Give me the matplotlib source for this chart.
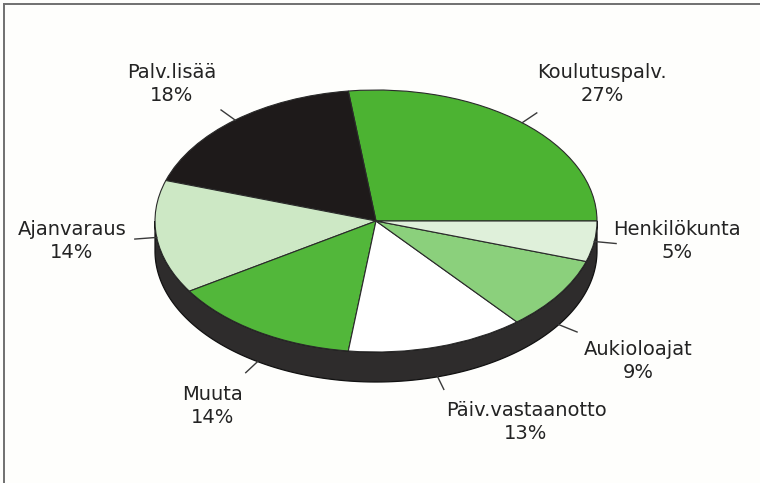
import numpy as np
import matplotlib
matplotlib.use("Agg")
import matplotlib.pyplot as plt
from matplotlib.patches import Polygon

labels = ["Koulutuspalv.", "Palv.lisää", "Ajanvaraus", "Muuta",
          "Päiv.vastaanotto", "Aukioloajat", "Henkilökunta"]
shares = [27, 18, 14, 14, 13, 9, 5]
colors = ["#4cb332", "#1e1a1a", "#cde8c5", "#52b73a",
          "#ffffff", "#8bd07c", "#dff0da"]

# label block centres in pixels (from top-left)
label_pos = [(602, 84), (172, 84), (72, 241), (213, 406),
             (526, 422), (638, 361), (677, 241)]

W, H = 760, 483
CX, CY = 376, 221      # ellipse centre, px
RX, RY = 221, 131      # ellipse radii, px
DEPTH = 30 / RY        # side height in data units
BG = "#fefefc"


def px(x, y):
    return (x - CX) / RX, (CY - y) / RY


fig = plt.figure(figsize=(W / 100, H / 100), dpi=100)
fig.patch.set_facecolor(BG)
ax = fig.add_axes([0, 0, 1, 1])
ax.set_facecolor(BG)

wedges, _ = ax.pie(shares, colors=colors, startangle=0, counterclock=True,
                   wedgeprops=dict(edgecolor="#2a2a2a", linewidth=0.8))
ax.set_aspect("auto")
ax.set_xlim(-CX / RX, (W - CX) / RX)
ax.set_ylim((CY - H) / RY, CY / RY)
ax.axis("off")

# side of the disc (front half)
t = np.linspace(np.pi, 2 * np.pi, 200)
top = np.column_stack([np.cos(t), np.sin(t)])
bottom = np.column_stack([np.cos(t[::-1]), np.sin(t[::-1]) - DEPTH])
side = Polygon(np.vstack([top, bottom]), closed=True, facecolor="#2e2c2c",
               edgecolor="#111111", linewidth=0.9, zorder=0.5)
ax.add_patch(side)

# leader lines and labels
bounds = np.concatenate([[0], np.cumsum(shares)]) / sum(shares) * 360
for i, (lab, val) in enumerate(zip(labels, shares)):
    mid = np.radians((bounds[i] + bounds[i + 1]) / 2)
    c, s = np.cos(mid), np.sin(mid)
    off = DEPTH if s < -0.3 else 0
    ax.plot([c * 1.0, c * 1.1], [s * 1.0 - off, s * 1.1 - off],
            color="#3a3a3a", linewidth=1.0, zorder=3)
    x, y = px(*label_pos[i])
    ax.text(x, y, f"{lab}\n{val}%", ha="center", va="center",
            fontsize=14, color="#232323", linespacing=1.3,
            family="DejaVu Sans")

# scanned frame edges (top and left)
x0, y0 = px(3.5, 4)
x1, y1 = px(W, H)
ax.plot([x0, x1], [y0, y0], color="#707070", linewidth=1.4, clip_on=False)
ax.plot([x0, x0], [y0, y1], color="#707070", linewidth=1.4, clip_on=False)

fig.savefig("out.png", dpi=100, facecolor=fig.get_facecolor())
